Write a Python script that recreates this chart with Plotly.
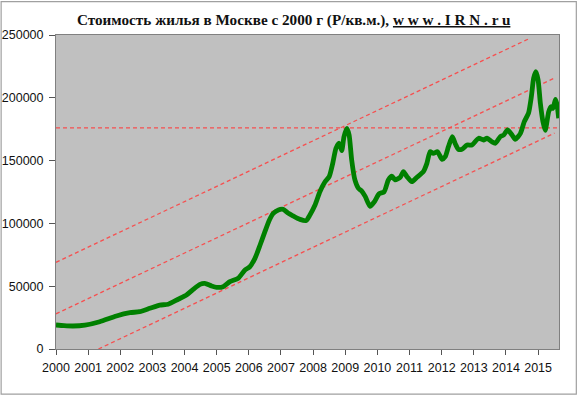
import plotly.graph_objects as go

# ---- data ----
years = [0.0, 0.25, 0.53, 0.9, 1.36, 1.88, 2.3, 2.6, 2.92, 3.23, 3.49, 3.8, 4.06, 4.27, 4.48,
         4.63, 4.84, 5.0, 5.2, 5.41, 5.67, 5.88, 6.03, 6.19, 6.35, 6.5, 6.64, 6.76, 6.92, 7.07,
         7.23, 7.38, 7.59, 7.78, 7.9, 8.06, 8.21, 8.37, 8.5, 8.61, 8.71, 8.81, 8.89, 8.96, 9.05,
         9.12, 9.2, 9.3, 9.41, 9.5, 9.62, 9.77, 9.9, 10.05, 10.21, 10.34, 10.45, 10.55, 10.71,
         10.81, 10.92, 11.07, 11.23, 11.43, 11.54, 11.64, 11.74, 11.87, 12.01, 12.11, 12.21,
         12.33, 12.43, 12.52, 12.63, 12.79, 12.94, 13.15, 13.3, 13.41, 13.56, 13.67, 13.82,
         13.93, 14.05, 14.19, 14.29, 14.45, 14.57, 14.7, 14.79, 14.86, 14.93, 15.0, 15.07,
         15.15, 15.22, 15.33, 15.4, 15.46, 15.54, 15.59, 15.64]
price_k = [19.1, 18.6, 18.3, 19.0, 21.7, 26.3, 28.9, 29.7, 32.4, 35.0, 35.6, 39.6, 43.0, 47.5, 51.5,
           52.3, 50.2, 49.1, 49.6, 53.6, 56.3, 62.9, 65.5, 72.2, 82.8, 93.4, 102.7, 108.0, 110.7, 111.2,
           108.0, 105.9, 103.2, 102.2, 106.7, 114.6, 125.2, 133.2, 137.2, 147.8, 159.8, 163.8, 157.9, 169.0, 175.7,
           170.4, 150.5, 134.6, 127.9, 126.0, 121.5, 113.6, 117.0, 123.5, 125.2, 134.6, 137.7, 134.6, 136.7,
           141.2, 137.2, 133.2, 136.7, 141.2, 147.8, 157.1, 155.8, 157.1, 151.0, 153.1, 161.1,
           169.0, 163.0, 159.0, 159.0, 162.4, 162.4, 167.8, 166.4, 167.8, 165.0, 163.8, 169.0,
           170.4, 174.4, 170.4, 167.0, 171.7, 181.0, 187.6, 200.9, 215.5, 220.8, 214.2, 195.6,
           181.0, 174.0, 189.0, 192.9, 191.6, 198.8, 194.3, 183.7]

# dashed guide lines: (start year offset, start value, end year offset, end value)
guide_x0 = [0.0, 0.0, 0.0, 1.32]
guide_y0 = [176000, 69000, 28000, 0]
guide_x1 = [15.72, 14.69, 15.51, 15.51]
guide_y1 = [176000, 246700, 215700, 171900]

year_ticks = list(range(2000, 2016))
y_ticks = [0, 50000, 100000, 150000, 200000, 250000]
title_text = "Стоимость жилья в Москве с 2000 г (Р/кв.м.), "
site_text = "w w w . I R N . r u"

# ---- figure ----
fig = go.Figure()

for gx0, gy0, gx1, gy1 in zip(guide_x0, guide_y0, guide_x1, guide_y1):
    fig.add_trace(go.Scatter(
        x=[2000 + gx0, 2000 + gx1], y=[gy0, gy1], mode="lines",
        line=dict(color="rgba(255,60,60,0.85)", width=1.3, dash="4px,3px"),
        hoverinfo="skip", showlegend=False, cliponaxis=True))

fig.add_trace(go.Scatter(
    x=[2000 + t for t in years], y=[v * 1000 for v in price_k], mode="lines",
    line=dict(color="#008000", width=4.8, shape="spline", smoothing=0.6),
    showlegend=False))

L, R, T, B = 56.3, 558.7, 35.3, 349.0
W, H = 582, 396
pw, ph = R - L, B - T

fig.update_layout(
    width=W, height=H,
    margin=dict(l=L, r=W - R, t=T, b=H - B, pad=0, autoexpand=False),
    paper_bgcolor="white", plot_bgcolor="#c0c0c0",
    font=dict(family="Liberation Sans, Arial, sans-serif", size=12.5, color="#111"),
    xaxis=dict(range=[2000, 2015.65], tickmode="array", tickvals=year_ticks,
               ticktext=[str(y) for y in year_ticks], ticks="outside", ticklen=5,
               tickcolor="#555", showgrid=False, zeroline=False, showline=True,
               linecolor="#808080", linewidth=1, mirror=True, automargin=False,
               ticklabelstandoff=2, tickfont=dict(size=12.5)),
    yaxis=dict(range=[0, 250000], tickmode="array", tickvals=y_ticks,
               ticktext=[str(v) for v in y_ticks], ticks="outside", ticklen=6,
               tickcolor="#555", showgrid=False, zeroline=False, showline=True,
               linecolor="#808080", linewidth=1, mirror=True, automargin=False,
               ticklabelstandoff=3, tickfont=dict(size=12.5)),
    annotations=[dict(
        xref="paper", yref="paper", x=(294 - L) / pw, y=(B - 20.5) / ph,
        xanchor="center", yanchor="middle", showarrow=False,
        text="<b>" + title_text + "<u>" + site_text + "</u></b>",
        font=dict(family="Liberation Serif, Times New Roman, serif", size=15.2, color="#111"))],
    shapes=[dict(type="rect", xref="paper", yref="paper",
                 x0=(1.5 - L) / pw, x1=(576 - L) / pw,
                 y0=(B - 394) / ph, y1=(B - 2) / ph,
                 line=dict(color="#a0a0a0", width=1.2), layer="below")],
)

fig.write_html("out.html", config={"displayModeBar": False},
               post_script="document.body.style.margin='0';document.body.style.overflow='hidden';")
